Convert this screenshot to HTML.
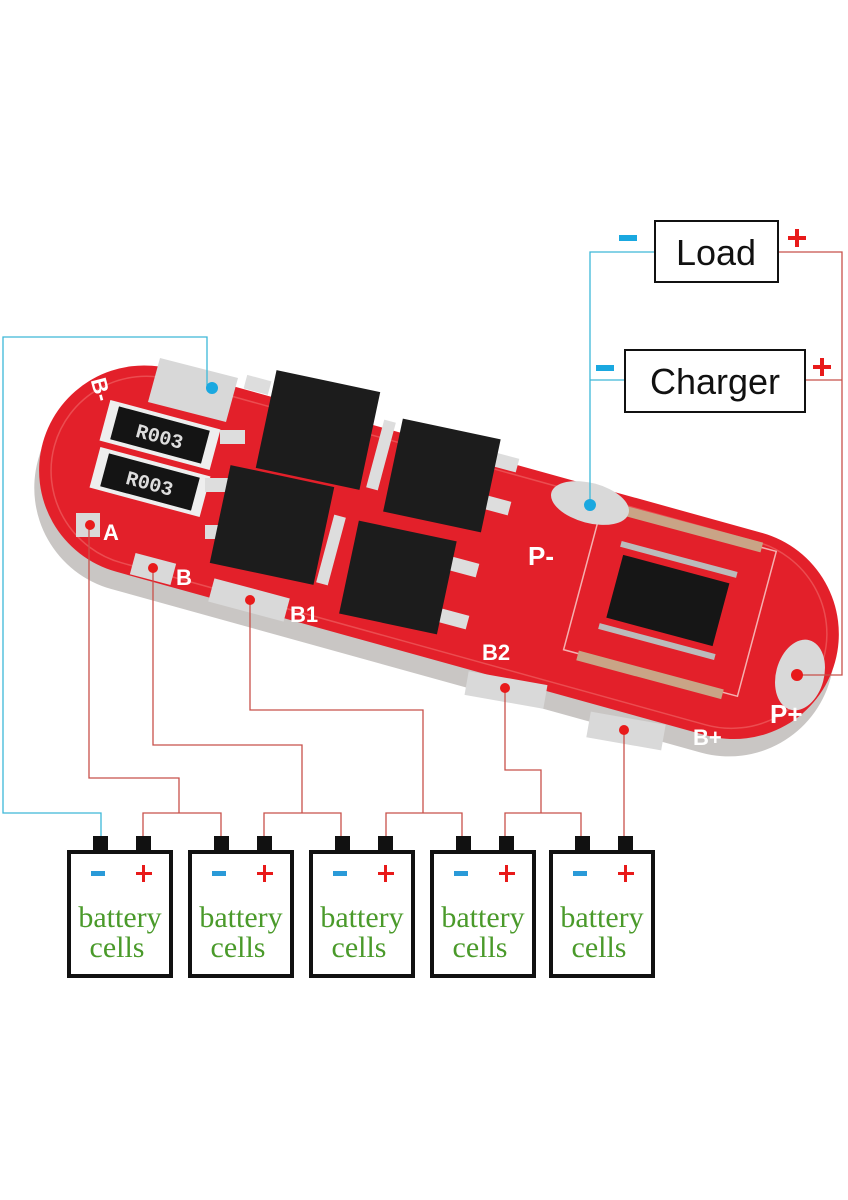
<!DOCTYPE html>
<html><head><meta charset="utf-8"><style>
html,body{margin:0;padding:0;background:#fff;}
svg{display:block}
</style></head><body>
<svg width="848" height="1200" viewBox="0 0 848 1200" xmlns="http://www.w3.org/2000/svg">
<rect width="848" height="1200" fill="#fff"/>
<!-- board -->
<g transform="rotate(15.5 438 552)">
  <rect x="28" y="462" width="822" height="213" rx="105" fill="#c9c6c4"/>
  <rect x="28" y="447" width="822" height="210" rx="105" fill="#e3202a"/>
  <rect x="40" y="457" width="798" height="190" rx="96" fill="none" stroke="#f06a6a" stroke-width="1.5" opacity="0.6"/>
</g>
<!-- B- pad -->
<polygon points="160,358 238,378 226,422 148,402" fill="#d8d8d8"/>
<!-- resistors -->
<g transform="rotate(15 160 435)">
  <rect x="103" y="414" width="114" height="42" fill="#eee"/>
  <rect x="113" y="418" width="94" height="34" fill="#141414"/>
  <text x="160" y="443" font-family="Liberation Mono, monospace" font-size="20" font-weight="bold" fill="#ddd" text-anchor="middle">R003</text>
</g>
<g transform="rotate(15 150 482)">
  <rect x="93" y="461" width="114" height="42" fill="#eee"/>
  <rect x="103" y="465" width="94" height="34" fill="#141414"/>
  <text x="150" y="490" font-family="Liberation Mono, monospace" font-size="20" font-weight="bold" fill="#ddd" text-anchor="middle">R003</text>
</g>
<!-- mosfets -->
<g fill="#ddd">
  <rect x="245" y="378" width="25" height="14" transform="rotate(15 258 385)"/>
  <rect x="220" y="430" width="25" height="14"/>
  <rect x="205" y="478" width="25" height="14"/>
  <rect x="205" y="525" width="25" height="14"/>
  <rect x="375" y="420" width="12" height="70" transform="rotate(15 381 455)"/>
  <rect x="325" y="515" width="12" height="70" transform="rotate(15 331 550)"/>
  <rect x="490" y="455" width="28" height="14" transform="rotate(15 504 462)"/>
  <rect x="482" y="498" width="28" height="14" transform="rotate(15 496 505)"/>
  <rect x="450" y="560" width="28" height="14" transform="rotate(15 464 567)"/>
  <rect x="440" y="612" width="28" height="14" transform="rotate(15 454 619)"/>
</g>
<g fill="#1c1c1c">
  <rect x="265" y="380" width="106" height="100" transform="rotate(12 318 430)"/>
  <rect x="392" y="428" width="100" height="95" transform="rotate(12 442 475)"/>
  <rect x="219" y="475" width="106" height="100" transform="rotate(12 272 525)"/>
  <rect x="348" y="530" width="100" height="95" transform="rotate(12 398 577)"/>
</g>
<!-- IC area -->
<g transform="rotate(15 668 600)">
  <rect x="580" y="525" width="180" height="150" fill="none" stroke="#f5b0b0" stroke-width="1.5"/>
  <rect x="595" y="520" width="150" height="10" fill="#c9a486"/>
  <rect x="595" y="672" width="150" height="10" fill="#c9a486"/>
  <rect x="608" y="555" width="120" height="6" fill="#bbb"/>
  <rect x="608" y="640" width="120" height="6" fill="#bbb"/>
  <rect x="613" y="568" width="110" height="65" fill="#161616"/>
</g>
<!-- pads -->
<g fill="#d9d9d9">
  <ellipse cx="590" cy="503" rx="40" ry="20" transform="rotate(15 590 503)"/>
  <ellipse cx="800" cy="675" rx="24" ry="36" transform="rotate(15 800 675)"/>
  <rect x="76" y="513" width="24" height="24"/>
  <rect x="132" y="558" width="42" height="22" transform="rotate(15 153 569)"/>
  <rect x="210" y="588" width="78" height="24" transform="rotate(15 249 600)"/>
  <rect x="466" y="678" width="80" height="24" transform="rotate(10 506 690)"/>
  <rect x="588" y="718" width="76" height="26" transform="rotate(10 626 731)"/>
</g>
<g font-family="Liberation Sans, sans-serif" font-size="22" font-weight="bold" fill="#fff">
  <text x="90" y="395" transform="rotate(75 100 388)">B-</text>
  <text x="103" y="540">A</text><text x="176" y="585">B</text><text x="290" y="622">B1</text>
  <text x="482" y="660">B2</text><text x="693" y="745">B+</text>
  <text x="528" y="565" font-size="26">P-</text><text x="770" y="723" font-size="26">P+</text>
</g>
<!-- connector lines -->
<g fill="none" stroke-width="1.3">
  <polyline stroke="#3db8d8" points="212,388 207,388 207,337 3,337 3,813 101,813 101,836"/>
  <polyline stroke="#3db8d8" points="590,505 590,252 655,252"/>
  <polyline stroke="#3db8d8" points="590,380 625,380"/>
  <polyline stroke="#c8504a" points="778,252 842,252 842,675 797,675"/>
  <polyline stroke="#c8504a" points="805,380 842,380"/>
  <polyline stroke="#c8504a" points="89,525 89,778 179,778 179,813"/>
  <polyline stroke="#c8504a" points="143,836 143,813 221,813 221,836"/>
  <polyline stroke="#c8504a" points="153,568 153,745 302,745 302,813"/>
  <polyline stroke="#c8504a" points="264,836 264,813 341,813 341,836"/>
  <polyline stroke="#c8504a" points="250,600 250,710 423,710 423,813"/>
  <polyline stroke="#c8504a" points="386,836 386,813 462,813 462,836"/>
  <polyline stroke="#c8504a" points="505,688 505,770 541,770 541,813"/>
  <polyline stroke="#c8504a" points="505,836 505,813 581,813 581,836"/>
  <polyline stroke="#c8504a" points="624,730 624,836"/>
</g>
<g fill="#1aa8e0"><circle cx="212" cy="388" r="6"/><circle cx="590" cy="505" r="6"/></g>
<g fill="#e81a1a"><circle cx="797" cy="675" r="6"/><circle cx="90" cy="525" r="5"/><circle cx="153" cy="568" r="5"/><circle cx="250" cy="600" r="5"/><circle cx="505" cy="688" r="5"/><circle cx="624" cy="730" r="5"/></g>
<!-- Load / Charger -->
<rect x="655" y="221" width="123" height="61" fill="#fff" stroke="#111" stroke-width="2"/>
<text x="716" y="265" font-family="Liberation Sans, sans-serif" font-size="36" text-anchor="middle" fill="#111">Load</text>
<rect x="625" y="350" width="180" height="62" fill="#fff" stroke="#111" stroke-width="2"/>
<text x="715" y="394" font-family="Liberation Sans, sans-serif" font-size="36" text-anchor="middle" fill="#111">Charger</text>
<rect x="619" y="235" width="18" height="6" fill="#1aa8e0"/>
<rect x="596" y="365" width="18" height="6" fill="#1aa8e0"/>
<g fill="#e81a1a"><rect x="788" y="236" width="18" height="4"/><rect x="795" y="229" width="4" height="18"/>
<rect x="813" y="365" width="18" height="4"/><rect x="820" y="358" width="4" height="18"/></g>
<!-- batteries -->
<g>
  <g transform="translate(0,0)">
    <rect x="93" y="836" width="15" height="16" fill="#111"/><rect x="136" y="836" width="15" height="16" fill="#111"/>
    <rect x="69" y="852" width="102" height="124" fill="#fff" stroke="#111" stroke-width="4"/>
    <rect x="91" y="871" width="14" height="5" fill="#2a9ad8"/><rect x="136" y="872" width="16" height="3" fill="#e81a1a"/><rect x="142" y="865" width="3" height="17" fill="#e81a1a"/>
    <text x="120" y="927" font-family="Liberation Serif, serif" font-size="30" fill="#4a9a2a" text-anchor="middle">battery</text>
    <text x="117" y="957" font-family="Liberation Serif, serif" font-size="30" fill="#4a9a2a" text-anchor="middle">cells</text>
  </g>
  <g transform="translate(121,0)">
    <rect x="93" y="836" width="15" height="16" fill="#111"/><rect x="136" y="836" width="15" height="16" fill="#111"/>
    <rect x="69" y="852" width="102" height="124" fill="#fff" stroke="#111" stroke-width="4"/>
    <rect x="91" y="871" width="14" height="5" fill="#2a9ad8"/><rect x="136" y="872" width="16" height="3" fill="#e81a1a"/><rect x="142" y="865" width="3" height="17" fill="#e81a1a"/>
    <text x="120" y="927" font-family="Liberation Serif, serif" font-size="30" fill="#4a9a2a" text-anchor="middle">battery</text>
    <text x="117" y="957" font-family="Liberation Serif, serif" font-size="30" fill="#4a9a2a" text-anchor="middle">cells</text>
  </g>
  <g transform="translate(242,0)">
    <rect x="93" y="836" width="15" height="16" fill="#111"/><rect x="136" y="836" width="15" height="16" fill="#111"/>
    <rect x="69" y="852" width="102" height="124" fill="#fff" stroke="#111" stroke-width="4"/>
    <rect x="91" y="871" width="14" height="5" fill="#2a9ad8"/><rect x="136" y="872" width="16" height="3" fill="#e81a1a"/><rect x="142" y="865" width="3" height="17" fill="#e81a1a"/>
    <text x="120" y="927" font-family="Liberation Serif, serif" font-size="30" fill="#4a9a2a" text-anchor="middle">battery</text>
    <text x="117" y="957" font-family="Liberation Serif, serif" font-size="30" fill="#4a9a2a" text-anchor="middle">cells</text>
  </g>
  <g transform="translate(363,0)">
    <rect x="93" y="836" width="15" height="16" fill="#111"/><rect x="136" y="836" width="15" height="16" fill="#111"/>
    <rect x="69" y="852" width="102" height="124" fill="#fff" stroke="#111" stroke-width="4"/>
    <rect x="91" y="871" width="14" height="5" fill="#2a9ad8"/><rect x="136" y="872" width="16" height="3" fill="#e81a1a"/><rect x="142" y="865" width="3" height="17" fill="#e81a1a"/>
    <text x="120" y="927" font-family="Liberation Serif, serif" font-size="30" fill="#4a9a2a" text-anchor="middle">battery</text>
    <text x="117" y="957" font-family="Liberation Serif, serif" font-size="30" fill="#4a9a2a" text-anchor="middle">cells</text>
  </g>
  <g transform="translate(482,0)">
    <rect x="93" y="836" width="15" height="16" fill="#111"/><rect x="136" y="836" width="15" height="16" fill="#111"/>
    <rect x="69" y="852" width="102" height="124" fill="#fff" stroke="#111" stroke-width="4"/>
    <rect x="91" y="871" width="14" height="5" fill="#2a9ad8"/><rect x="136" y="872" width="16" height="3" fill="#e81a1a"/><rect x="142" y="865" width="3" height="17" fill="#e81a1a"/>
    <text x="120" y="927" font-family="Liberation Serif, serif" font-size="30" fill="#4a9a2a" text-anchor="middle">battery</text>
    <text x="117" y="957" font-family="Liberation Serif, serif" font-size="30" fill="#4a9a2a" text-anchor="middle">cells</text>
  </g>
</g>
</svg>
</body></html>
